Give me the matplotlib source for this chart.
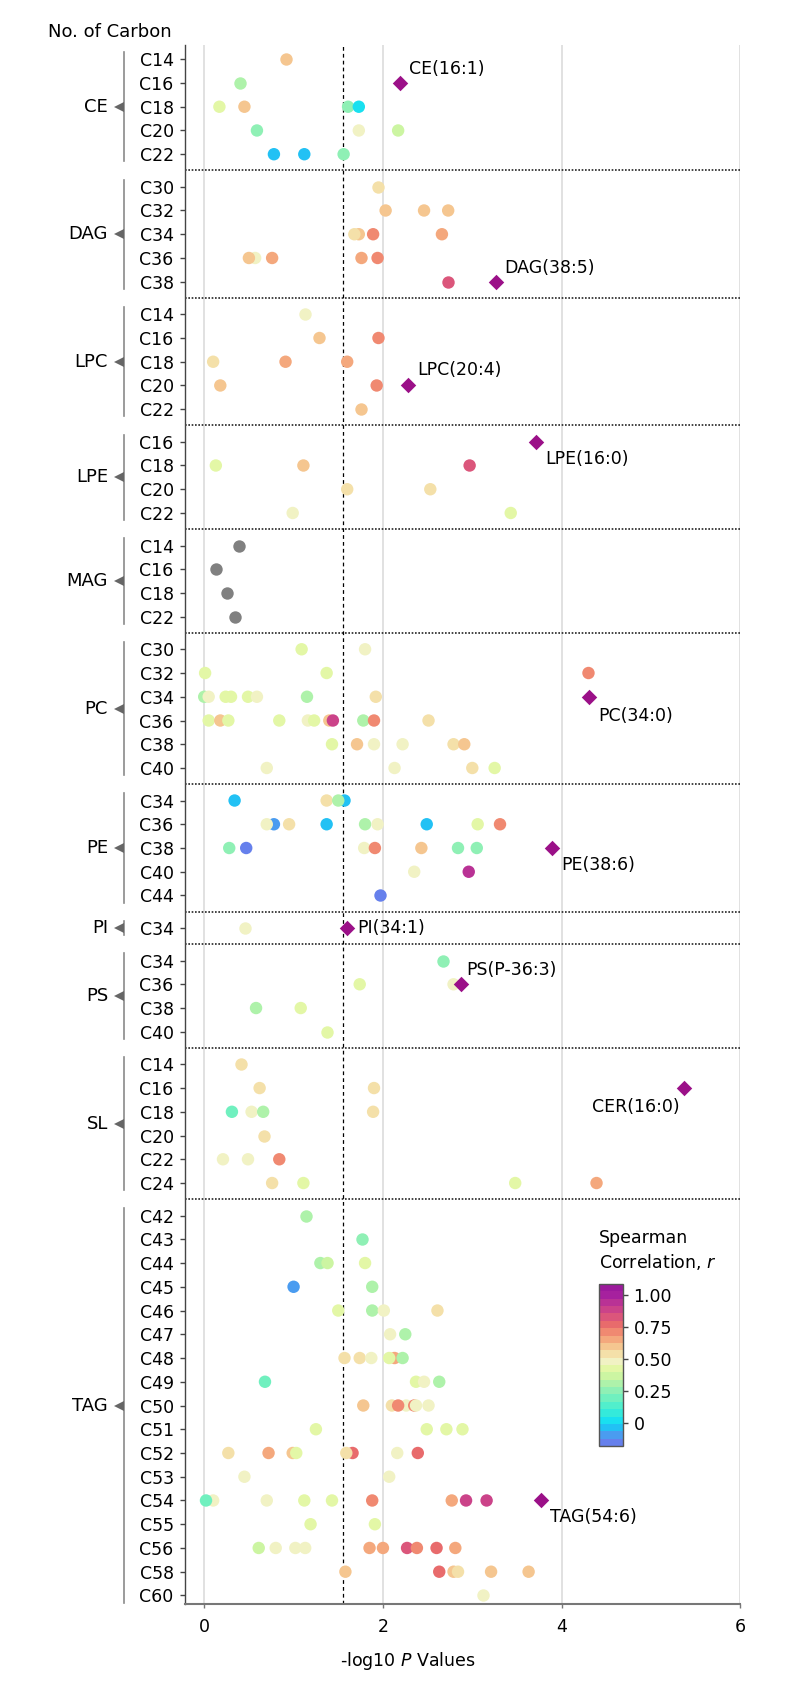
import matplotlib
matplotlib.use('Agg')
import matplotlib.pyplot as plt
from matplotlib.colors import LinearSegmentedColormap, Normalize
from matplotlib.cm import ScalarMappable

# ---- data: -log10 P values (x) and Spearman r (colour) per carbon row ----
ce_carbon = ['C14', 'C16', 'C18', 'C20', 'C22']
ce_x = [[0.92], [0.40], [0.17, 0.45, 1.61, 1.73], [0.59, 1.73, 2.17], [0.78, 1.12, 1.56]]
ce_r = [[0.60], [0.30], [0.45, 0.60, 0.27, 0.03], [0.28, 0.47, 0.38], [-0.05, -0.05, 0.28]]

dag_carbon = ['C30', 'C32', 'C34', 'C36', 'C38']
dag_x = [[1.95], [2.03, 2.46, 2.73], [1.73, 1.68, 1.89, 2.66], [0.57, 0.50, 0.76, 1.76, 1.94], [2.73]]
dag_r = [[0.54], [0.62, 0.62, 0.62], [0.62, 0.57, 0.72, 0.68], [0.48, 0.62, 0.68, 0.66, 0.70], [0.85]]

lpc_carbon = ['C14', 'C16', 'C18', 'C20', 'C22']
lpc_x = [[1.13], [1.29, 1.95], [0.10, 0.91, 1.60], [0.18, 1.93], [1.76]]
lpc_r = [[0.46], [0.60, 0.70], [0.54, 0.68, 0.68], [0.60, 0.70], [0.62]]

lpe_carbon = ['C16', 'C18', 'C20', 'C22']
lpe_x = [[], [0.13, 1.11, 2.97], [1.60, 2.53], [0.99, 3.43]]
lpe_r = [[], [0.43, 0.62, 0.85], [0.52, 0.52], [0.50, 0.44]]

mag_carbon = ['C14', 'C16', 'C18', 'C22']
mag_x = [[0.39], [0.13], [0.26], [0.35]]
mag_r = [[None], [None], [None], [None]]

pc_carbon = ['C30', 'C32', 'C34', 'C36', 'C38', 'C40']
pc_x = [[1.09, 1.80],
        [0.01, 1.37, 4.30],
        [0.00, 0.05, 0.24, 0.30, 0.49, 0.59, 1.15, 1.92],
        [0.05, 0.18, 0.27, 0.84, 1.16, 1.23, 1.40, 1.44, 1.78, 1.90, 2.51],
        [1.43, 1.71, 1.90, 2.22, 2.79, 2.91],
        [0.70, 2.13, 3.00, 3.25]]
pc_r = [[0.40, 0.47],
        [0.40, 0.42, 0.70],
        [0.30, 0.46, 0.42, 0.44, 0.40, 0.47, 0.30, 0.57],
        [0.40, 0.62, 0.40, 0.40, 0.46, 0.42, 0.60, 0.86, 0.30, 0.70, 0.55],
        [0.40, 0.62, 0.47, 0.47, 0.57, 0.58],
        [0.47, 0.47, 0.56, 0.40]]

pe_carbon = ['C34', 'C36', 'C38', 'C40', 'C44']
pe_x = [[0.34, 1.37, 1.57, 1.50],
        [0.78, 0.70, 0.95, 1.37, 1.80, 1.94, 2.49, 3.06, 3.31],
        [0.28, 0.47, 1.79, 1.91, 2.43, 2.84, 3.05],
        [2.35, 2.96],
        [1.97]]
pe_r = [[-0.05, 0.56, -0.05, 0.30],
        [-0.08, 0.47, 0.54, -0.04, 0.30, 0.47, -0.05, 0.40, 0.70],
        [0.28, -0.14, 0.47, 0.70, 0.60, 0.28, 0.28],
        [0.47, 0.92],
        [-0.14]]

pi_carbon = ['C34']
pi_x = [[0.46]]
pi_r = [[0.46]]

ps_carbon = ['C34', 'C36', 'C38', 'C40']
ps_x = [[2.67], [1.74, 2.79], [0.58, 1.08], [1.37]]
ps_r = [[0.28], [0.40, 0.47], [0.30, 0.40], [0.42]]

sl_carbon = ['C14', 'C16', 'C18', 'C20', 'C22', 'C24']
sl_x = [[0.41], [0.62, 1.90], [0.31, 0.53, 0.66, 1.89], [0.67], [0.21, 0.49, 0.84], [0.76, 1.11, 3.48, 4.39]]
sl_r = [[0.54], [0.52, 0.54], [0.18, 0.47, 0.32, 0.54], [0.53], [0.46, 0.46, 0.70], [0.57, 0.40, 0.42, 0.68]]

tag_carbon = ['C42', 'C43', 'C44', 'C45', 'C46', 'C47', 'C48', 'C49', 'C50',
              'C51', 'C52', 'C53', 'C54', 'C55', 'C56', 'C58', 'C60']
tag_x = [[1.14],
         [1.77],
         [1.30, 1.38, 1.80],
         [1.00, 1.88],
         [1.50, 1.88, 2.01, 2.61],
         [2.08, 2.25],
         [1.57, 1.74, 1.87, 2.13, 2.07, 2.22],
         [0.68, 2.37, 2.46, 2.63],
         [1.78, 2.10, 2.26, 2.17, 2.35, 2.37, 2.51],
         [1.25, 2.49, 2.71, 2.89],
         [0.27, 0.72, 0.99, 1.03, 1.66, 1.59, 2.16, 2.39],
         [0.45, 2.07],
         [0.10, 0.02, 0.70, 1.12, 1.43, 1.88, 2.77, 2.93, 3.16],
         [1.19, 1.91],
         [0.61, 0.80, 1.02, 1.13, 1.85, 2.00, 2.27, 2.38, 2.60, 2.81],
         [1.58, 2.63, 2.79, 2.84, 3.21, 3.63],
         [3.12]]
tag_r = [[0.30],
         [0.26],
         [0.32, 0.38, 0.43],
         [-0.07, 0.33],
         [0.40, 0.30, 0.48, 0.55],
         [0.46, 0.32],
         [0.57, 0.52, 0.46, 0.64, 0.40, 0.32],
         [0.20, 0.40, 0.46, 0.32],
         [0.60, 0.56, 0.48, 0.70, 0.72, 0.47, 0.48],
         [0.42, 0.42, 0.43, 0.41],
         [0.54, 0.64, 0.62, 0.40, 0.76, 0.52, 0.46, 0.78],
         [0.46, 0.46],
         [0.46, 0.18, 0.46, 0.41, 0.45, 0.72, 0.68, 0.90, 0.86],
         [0.42, 0.43],
         [0.38, 0.47, 0.47, 0.46, 0.63, 0.68, 0.82, 0.74, 0.76, 0.68],
         [0.58, 0.76, 0.62, 0.57, 0.58, 0.58],
         [0.48]]

# highlighted lipids (diamonds)
hl_group = ['CE', 'DAG', 'LPC', 'LPE', 'PC', 'PE', 'PI', 'PS', 'SL', 'TAG']
hl_carbon = ['C16', 'C38', 'C20', 'C16', 'C34', 'C38', 'C34', 'C36', 'C16', 'C54']
hl_x = [2.19, 3.26, 2.28, 3.71, 4.31, 3.89, 1.60, 2.87, 5.37, 3.77]
hl_label = ['CE(16:1)', 'DAG(38:5)', 'LPC(20:4)', 'LPE(16:0)', 'PC(34:0)',
            'PE(38:6)', 'PI(34:1)', 'PS(P-36:3)', 'CER(16:0)', 'TAG(54:6)']

threshold = 1.55

groups = [('CE', ce_carbon, ce_x, ce_r), ('DAG', dag_carbon, dag_x, dag_r),
          ('LPC', lpc_carbon, lpc_x, lpc_r), ('LPE', lpe_carbon, lpe_x, lpe_r),
          ('MAG', mag_carbon, mag_x, mag_r), ('PC', pc_carbon, pc_x, pc_r),
          ('PE', pe_carbon, pe_x, pe_r), ('PI', pi_carbon, pi_x, pi_r),
          ('PS', ps_carbon, ps_x, ps_r), ('SL', sl_carbon, sl_x, sl_r),
          ('TAG', tag_carbon, tag_x, tag_r)]

# colour map (banded, like the original legend); anchors given in r units
vmin, vmax = -0.18, 1.09
anchors = [(-0.18, '#6680ec'), (-0.12, '#4a9cf0'), (-0.06, '#22c0f4'), (0.00, '#18e0f0'),
           (0.09, '#40eed2'), (0.18, '#6ff0c0'), (0.27, '#9cf0b0'), (0.35, '#c6f5a2'),
           (0.42, '#e2f7a4'), (0.49, '#f2f2c6'), (0.56, '#f4dca2'), (0.63, '#f5ba86'),
           (0.71, '#f29272'), (0.79, '#e86a6c'), (0.87, '#d64e80'), (0.95, '#c03892'),
           (1.02, '#a8229e'), (1.09, '#9c1a9c')]
cmap = LinearSegmentedColormap.from_list(
    'spear', [((v - vmin) / (vmax - vmin), c) for v, c in anchors], N=22)
norm = Normalize(vmin=vmin, vmax=vmax)

fig = plt.figure(figsize=(7.94, 16.89), dpi=100)
W, H = 794, 1689
ax = fig.add_axes([185 / W, 1 - 1604 / H, 555.4 / W, (1604 - 45) / H])

# row positions
ypos = {}
spans = []
ticks, ticklabels = [], []
y = 0.0
for gi, (g, carbons, xs, rs) in enumerate(groups):
    if gi > 0:
        y += 0.37
    start = y
    for c in carbons:
        ypos[(g, c)] = y
        ticks.append(y)
        ticklabels.append(c)
        y += 1
    spans.append((g, start, y - 1))

for gi, (g, carbons, xs, rs) in enumerate(groups):
    for c, xr, rr in zip(carbons, xs, rs):
        if not xr:
            continue
        yy = [ypos[(g, c)]] * len(xr)
        if rr[0] is None:
            ax.scatter(xr, yy, s=80, color='#808080', linewidths=0, zorder=3)
        else:
            ax.scatter(xr, yy, s=80, c=rr, cmap=cmap, norm=norm, linewidths=0, zorder=3)

# highlighted diamonds + labels
offsets = {'CE(16:1)': (6.5, 10, 'left'), 'DAG(38:5)': (6.5, 10, 'left'),
           'LPC(20:4)': (6.5, 11, 'left'), 'LPE(16:0)': (6.5, -12.5, 'left'),
           'PC(34:0)': (6.5, -13.5, 'left'), 'PE(38:6)': (6.5, -12.5, 'left'),
           'PI(34:1)': (7.5, 0, 'left'), 'PS(P-36:3)': (4, 10, 'left'),
           'CER(16:0)': (-3.5, -14, 'right'), 'TAG(54:6)': (6.5, -12, 'left')}
for g, c, xv, lab in zip(hl_group, hl_carbon, hl_x, hl_label):
    yy = ypos[(g, c)]
    ax.scatter([xv], [yy], marker='D', s=62, color='#9b1088', linewidths=0, zorder=4)
    dx, dy, ha = offsets[lab]
    ax.annotate(lab, (xv, yy), xytext=(dx, dy), textcoords='offset points',
                ha=ha, va='center', fontsize=12.5, color='black', zorder=5)

# separators between lipid classes
for (g1, s1, e1), (g2, s2, e2) in zip(spans[:-1], spans[1:]):
    ax.axhline((e1 + s2) / 2, color='#222222', lw=1.2, ls=(0, (1, 1)), zorder=2)

ax.axvline(threshold, color='black', lw=0.9, ls=(0, (3, 2.5)), zorder=2)

ax.set_xlim(-0.215, 6.0)
ax.set_ylim(y - 1 + 0.36, -0.60)
ax.set_xticks([0, 2, 4, 6])
ax.set_xticklabels(['0', '2', '4', '6'])
ax.set_yticks(ticks)
ax.set_yticklabels(ticklabels)
ax.grid(axis='x', color='#d9d9d9', lw=1.1, zorder=0)
ax.set_axisbelow(True)
for side in ['top', 'right']:
    ax.spines[side].set_visible(False)
ax.spines['left'].set_color('#444444')
ax.spines['left'].set_linewidth(1.0)
ax.spines['bottom'].set_color('#777777')
ax.spines['bottom'].set_linewidth(1.5)
ax.tick_params(axis='y', length=3.6, width=1, color='#444444', pad=4.5, labelsize=12.5)
ax.tick_params(axis='x', length=3, width=1, color='#777777', pad=7, labelsize=12.5)

# class brackets with triangles
ytr = ax.get_yaxis_transform()
bx = (124 - 185) / 555.4
tx = (118.5 - 185) / 555.4
lx = (108 - 185) / 555.4
for g, s, e in spans:
    ax.plot([bx, bx], [s - 0.3, e + 0.3], transform=ytr, color='#8a8a8a', lw=1.2, clip_on=False)
    mid = (s + e) / 2
    ax.plot([tx], [mid], transform=ytr, marker='<', ms=7, color='#666666', mew=0, clip_on=False)
    ax.text(lx, mid, g, transform=ytr, ha='right', va='center', fontsize=13)

fig.text(48 / W, 1 - 32 / H, 'No. of Carbon', ha='left', va='center', fontsize=13)
fig.text(408 / W, 1 - 1661 / H, r'-log10 $\mathit{P}$ Values', ha='center', va='center', fontsize=12.5)

# colour bar
cax = fig.add_axes([599 / W, 1 - 1446 / H, 24 / W, 162 / H])
cb = fig.colorbar(ScalarMappable(norm=norm, cmap=cmap), cax=cax, ticks=[0, 0.25, 0.5, 0.75, 1.0])
cb.ax.set_yticklabels(['0', '0.25', '0.50', '0.75', '1.00'])
cb.ax.tick_params(length=3.5, width=1, color='#444444', pad=4, labelsize=12.5)
cb.outline.set_edgecolor('#555555')
cb.outline.set_linewidth(1.0)
fig.text(599 / W, 1 - 1238 / H, 'Spearman', ha='left', va='center', fontsize=12.5)
fig.text(599 / W, 1 - 1262 / H, r'Correlation, $\mathit{r}$', ha='left', va='center', fontsize=12.5)

fig.savefig('out.png', dpi=100)
